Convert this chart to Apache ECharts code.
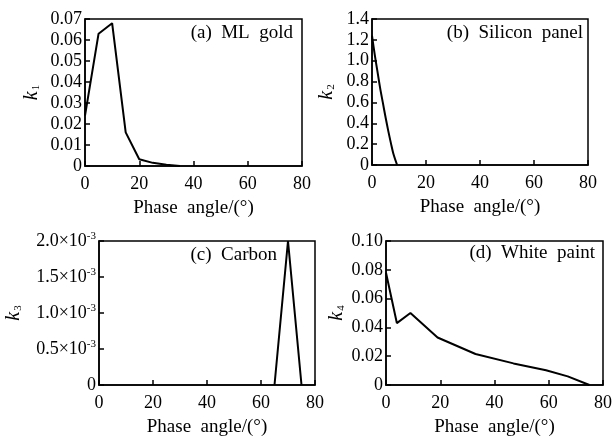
<!DOCTYPE html>
<html>
<head>
<meta charset="utf-8">
<script src="https://cdn.jsdelivr.net/npm/echarts@6/dist/echarts.min.js"></script>
<style>
  html, body { margin: 0; padding: 0; background: #fff; }
  #chartDiv { width: 615px; height: 438px; }
</style>
</head>
<body>
<div id="chartDiv"></div>
<script>
// phase angle in degrees
var goldX = [0, 5, 10, 15, 20, 25, 30, 35];
var goldK = [0.024, 0.063, 0.068, 0.016, 0.0032, 0.0015, 0.0006, 0];

var siliconX = [0, 1, 2, 3, 4, 5, 6, 7, 8, 9.3];
var siliconK = [1.24, 1.06, 0.9, 0.74, 0.6, 0.46, 0.33, 0.21, 0.1, 0];

var carbonX = [65, 70, 75];
var carbonK = [0, 0.002, 0];

var paintX = [0, 4, 9, 19, 33, 47, 59, 67, 75];
var paintK = [0.078, 0.043, 0.05, 0.033, 0.0215, 0.015, 0.0103, 0.006, 0];

var xTicks = [0, 20, 40, 60, 80];
var panelTitles = ["(a)  ML  gold", "(b)  Silicon  panel", "(c)  Carbon", "(d)  White  paint"];
var yNames = ["1", "2", "3", "4"];

var FONT = "Liberation Serif";
var chartDiv = document.getElementById("chartDiv");
var myChart = echarts.init(chartDiv);

function pairs(xs, ys) {
  var out = [];
  for (var i = 0; i < xs.length; i++) out.push([xs[i], ys[i]]);
  return out;
}

var grids = [
  { left: 85, top: 19, width: 217, height: 147 },
  { left: 372, top: 19, width: 216, height: 146 },
  { left: 99, top: 241, width: 216, height: 146 },
  { left: 386, top: 241, width: 217, height: 146 }
];

var yMax = [0.07, 1.4, 0.002, 0.1];
var yStep = [0.01, 0.2, 0.0005, 0.02];
var yFmt = [
  function (v) { return v === 0 ? "0" : v.toFixed(2); },
  function (v) { return v === 0 ? "0" : v.toFixed(1); },
  function (v) { return v === 0 ? "0" : "{m|" + (v * 1000).toFixed(1) + "×10}{e|-3}"; },
  function (v) { return v === 0 ? "0" : v.toFixed(2); }
];
var nameGaps = [43, 35, 75, 39];

var option = {
  animation: false,
  backgroundColor: "#fff",
  textStyle: { fontFamily: FONT, color: "#000" },
  grid: grids.map(function (g) {
    return Object.assign({ show: true, borderColor: "#000", borderWidth: 1.5, backgroundColor: "transparent" }, g);
  }),
  xAxis: grids.map(function (g, i) {
    return {
      gridIndex: i, type: "value", min: 0, max: 80, interval: 20,
      name: "Phase  angle/(°)", nameLocation: "middle", nameGap: 33,
      nameTextStyle: { fontFamily: FONT, fontSize: 19, color: "#000" },
      axisLine: { lineStyle: { color: "#000", width: 1.5 } },
      axisTick: { inside: true, length: 5, lineStyle: { color: "#000", width: 1.5 } },
      axisLabel: { fontFamily: FONT, fontSize: 18, color: "#000", margin: 9,
        formatter: function (v) { return xTicks.indexOf(v) >= 0 ? String(v) : ""; } },
      splitLine: { show: false }
    };
  }),
  yAxis: grids.map(function (g, i) {
    return {
      gridIndex: i, type: "value", min: 0, max: yMax[i], interval: yStep[i],
      name: "{k|k}{s|" + yNames[i] + "}", nameLocation: "middle", nameGap: nameGaps[i], nameRotate: 90,
      nameTextStyle: {
        rich: {
          k: { fontFamily: FONT, fontStyle: "italic", fontSize: 20, color: "#000" },
          s: { fontFamily: FONT, fontSize: 11, color: "#000", padding: [8, 0, 0, 1] }
        }
      },
      axisLine: { lineStyle: { color: "#000", width: 1.5 } },
      axisTick: { inside: true, length: 5, lineStyle: { color: "#000", width: 1.5 } },
      axisLabel: {
        fontFamily: FONT, fontSize: 18, color: "#000", margin: 3, formatter: yFmt[i],
        rich: {
          m: { fontFamily: FONT, fontSize: 18, color: "#000" },
          e: { fontFamily: FONT, fontSize: 11, color: "#000", padding: [0, 0, 9, 0] }
        }
      },
      splitLine: { show: false }
    };
  }),
  graphic: [
    { type: "text", x: 293, y: 33, style: { text: panelTitles[0], font: "19px " + FONT, fill: "#000", align: "right", verticalAlign: "middle" } },
    { type: "text", x: 583, y: 33, style: { text: panelTitles[1], font: "19px " + FONT, fill: "#000", align: "right", verticalAlign: "middle" } },
    { type: "text", x: 277, y: 255, style: { text: panelTitles[2], font: "19px " + FONT, fill: "#000", align: "right", verticalAlign: "middle" } },
    { type: "text", x: 595, y: 253, style: { text: panelTitles[3], font: "19px " + FONT, fill: "#000", align: "right", verticalAlign: "middle" } }
  ],
  series: [
    pairs(goldX, goldK), pairs(siliconX, siliconK), pairs(carbonX, carbonK), pairs(paintX, paintK)
  ].map(function (d, i) {
    return {
      type: "line", xAxisIndex: i, yAxisIndex: i, data: d,
      smooth: i === 1 ? 0.3 : false, showSymbol: false,
      lineStyle: { color: "#000", width: 2 }
    };
  })
};

myChart.setOption(option);
</script>
</body>
</html>
